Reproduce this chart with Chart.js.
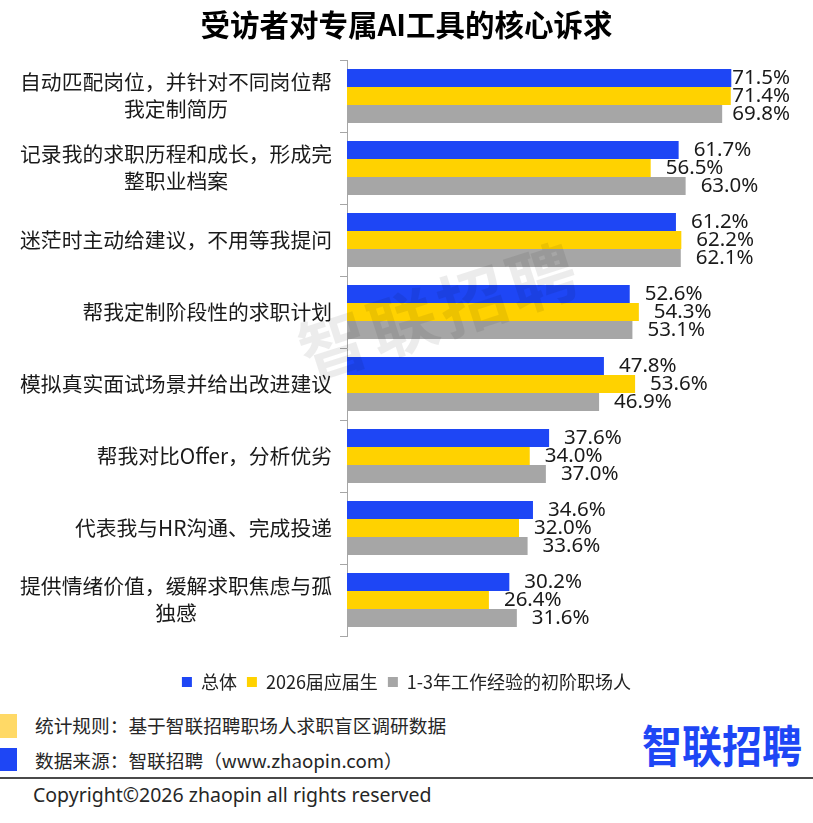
<!DOCTYPE html>
<html>
<head>
<meta charset="utf-8">
<script src="https://cdn.jsdelivr.net/npm/chart.js@4.4.1/dist/chart.umd.min.js"></script>
<style>
  html, body { margin: 0; padding: 0; background: #fff; }
  #wrap { position: relative; width: 813px; height: 823px; overflow: hidden; background: #fff; }
  #c { position: absolute; left: 0; top: 0; }
  .ft { position: absolute; font-family: "Noto Sans CJK SC", "Noto Sans", sans-serif; color: #262626; white-space: nowrap; }
</style>
</head>
<body>
<div id="wrap">
  <canvas id="c" width="813" height="701"></canvas>
  <div style="position:absolute;left:0;top:714px;width:17px;height:24px;background:#FFD966;"></div>
  <div class="ft" style="left:35px;top:713px;font-size:18.7px;line-height:24px;">统计规则：基于智联招聘职场人求职盲区调研数据</div>
  <div style="position:absolute;left:0;top:748px;width:17px;height:23px;background:#1E46F5;"></div>
  <div class="ft" style="left:35px;top:748px;font-size:18.7px;line-height:24px;">数据来源：智联招聘（www.zhaopin.com）</div>
  <div style="position:absolute;left:0;top:777px;width:813px;height:2px;background:#4a4a4a;"></div>
  <div class="ft" style="left:33px;top:782px;font-size:19.5px;line-height:26px;font-family:'Noto Sans',sans-serif;">Copyright©2026 zhaopin all rights reserved</div>
  <div class="ft" style="left:642px;top:711px;font-size:40px;line-height:58px;font-weight:700;color:#1E46F5;transform:scaleY(1.12);transform-origin:top left;">智联招聘</div>
</div>
<script>
const categories = [
  ["自动匹配岗位，并针对不同岗位帮", "我定制简历"],
  ["记录我的求职历程和成长，形成完", "整职业档案"],
  ["迷茫时主动给建议，不用等我提问"],
  ["帮我定制阶段性的求职计划"],
  ["模拟真实面试场景并给出改进建议"],
  ["帮我对比Offer，分析优劣"],
  ["代表我与HR沟通、完成投递"],
  ["提供情绪价值，缓解求职焦虑与孤", "独感"]
];
const seriesNames = ["总体", "2026届应届生", "1-3年工作经验的初阶职场人"];
const overall   = [71.5, 61.7, 61.2, 52.6, 47.8, 37.6, 34.6, 30.2];
const grads2026 = [71.4, 56.5, 62.2, 54.3, 53.6, 34.0, 32.0, 26.4];
const junior    = [69.8, 63.0, 62.1, 53.1, 46.9, 37.0, 33.6, 31.6];
const titleText = "受访者对专属AI工具的核心诉求";
const watermarkText = "智联招聘";

const colors = ["#1E46F5", "#FFD200", "#A6A6A6"];

const labelsPlugin = {
  id: 'customLabels',
  afterDatasetsDraw(chart) {
    const ctx = chart.ctx;
    const yScale = chart.scales.y;
    ctx.save();
    ctx.font = '20.8px "Noto Sans CJK SC", sans-serif';
    ctx.fillStyle = '#1a1a1a';
    ctx.textBaseline = 'middle';
    ctx.textAlign = 'center';
    const rightX = 332, lh = 27;
    categories.forEach((lines, i) => {
      const yc = yScale.getPixelForValue(i);
      const w = Math.max(...lines.map(l => ctx.measureText(l).width));
      const cx = rightX - w / 2;
      const y0 = yc - (lines.length - 1) * lh / 2;
      lines.forEach((l, k) => ctx.fillText(l, cx, y0 + k * lh));
    });
    ctx.restore();
    ctx.save();
    ctx.font = '20.5px "Noto Sans", sans-serif';
    ctx.fillStyle = '#1a1a1a';
    ctx.textBaseline = 'middle';
    ctx.textAlign = 'left';
    chart.data.datasets.forEach((ds, di) => {
      const meta = chart.getDatasetMeta(di);
      meta.data.forEach((bar, i) => {
        const txt = ds.data[i].toFixed(1) + '%';
        const w = ctx.measureText(txt).width;
        const x = Math.min(bar.x + 15, 790 - w);
        ctx.fillText(txt, x, bar.y);
      });
    });
    ctx.restore();
  },
  afterDraw(chart) {
    const ctx = chart.ctx;
    ctx.save();
    ctx.translate(440, 311);
    ctx.rotate(-18 * Math.PI / 180);
    ctx.font = 'bold 68px "Noto Sans CJK SC", sans-serif';
    ctx.fillStyle = 'rgba(0,0,0,0.075)';
    ctx.textAlign = 'center';
    ctx.textBaseline = 'middle';
    if ('letterSpacing' in ctx) ctx.letterSpacing = '5px';
    ctx.fillText(watermarkText, 0, 0);
    ctx.restore();
  }
};

new Chart(document.getElementById('c'), {
  type: 'bar',
  data: {
    labels: categories.map(c => c.join('')),
    datasets: [
      { label: seriesNames[0], data: overall, backgroundColor: colors[0], borderWidth: 0, categoryPercentage: 0.75, barPercentage: 1.0 },
      { label: seriesNames[1], data: grads2026, backgroundColor: colors[1], borderWidth: 0, categoryPercentage: 0.75, barPercentage: 1.0 },
      { label: seriesNames[2], data: junior, backgroundColor: colors[2], borderWidth: 0, categoryPercentage: 0.75, barPercentage: 1.0 }
    ]
  },
  options: {
    indexAxis: 'y',
    responsive: false,
    animation: false,
    devicePixelRatio: 1,
    layout: { padding: 0 },
    scales: {
      x: {
        position: 'bottom', min: 0, max: 80,
        ticks: { display: false },
        grid: { display: false, drawTicks: false },
        border: { display: false },
        afterFit: s => { s.height = 27; }
      },
      y: {
        position: 'left',
        ticks: { display: false },
        grid: { drawOnChartArea: false, drawTicks: true, tickLength: 7, color: '#a6a6a6', offset: true },
        border: { display: true, color: '#a6a6a6', width: 1 },
        afterFit: s => { s.width = 347; }
      },
      yR: {
        position: 'right', type: 'linear', display: true,
        ticks: { display: false },
        grid: { display: false, drawTicks: false },
        border: { display: false },
        afterFit: s => { s.width = 36; }
      }
    },
    plugins: {
      title: {
        display: true, text: titleText, color: '#000',
        font: { family: '"Noto Sans CJK SC", sans-serif', size: 29.5, weight: 'bold' },
        padding: { top: 7, bottom: 17.6 }
      },
      legend: {
        display: true, position: 'bottom',
        labels: {
          boxWidth: 10, boxHeight: 10, padding: 10, color: '#222',
          font: { family: '"Noto Sans CJK SC", sans-serif', size: 18 }
        }
      },
      tooltip: { enabled: false }
    }
  },
  plugins: [labelsPlugin]
});
</script>
</body>
</html>
